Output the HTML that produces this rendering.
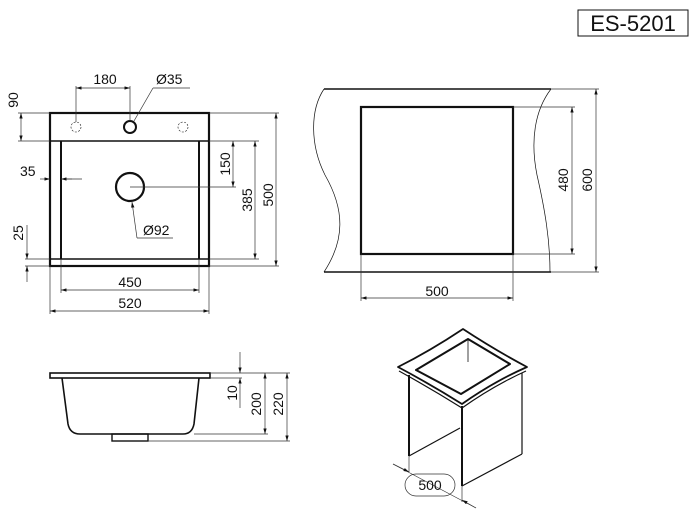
<!DOCTYPE html>
<html><head><style>
html,body{margin:0;padding:0;background:#fff;}
svg{display:block;}
text{font-family:"Liberation Sans",Arial,sans-serif;fill:#111;}
</style></head><body>
<svg width="692" height="530" viewBox="0 0 692 530" xmlns="http://www.w3.org/2000/svg">
<defs>
<marker id="a" viewBox="0 0 10 6" refX="10" refY="3" markerWidth="8" markerHeight="5" orient="auto-start-reverse"><path d="M0,0 L10,3 L0,6z" fill="#111"/></marker>
</defs>
<rect x="578" y="10" width="110" height="26" fill="none" stroke="#111" stroke-width="1"/>
<text x="633" y="31" font-size="22" text-anchor="middle">ES-5201</text>

<g stroke="#111" fill="none">
<rect x="50" y="113" width="159" height="153" stroke-width="2.2"/>
<line x1="50" y1="141" x2="209" y2="141" stroke-width="1.6"/>
<line x1="50" y1="259" x2="209" y2="259" stroke-width="1.6"/>
<line x1="61" y1="141" x2="61" y2="259" stroke-width="2"/>
<line x1="199" y1="141" x2="199" y2="259" stroke-width="2"/>
<circle cx="130" cy="127" r="6" stroke-width="2"/>
<circle cx="76" cy="127" r="5" stroke-width="0.6" stroke-dasharray="2,1.5"/>
<circle cx="183" cy="127" r="5" stroke-width="0.6" stroke-dasharray="2,1.5"/>
<circle cx="130" cy="187" r="14" stroke-width="2.2"/>
</g>
<g stroke="#333" stroke-width="0.7" fill="none">
<line x1="76" y1="86" x2="76" y2="122"/><line x1="130" y1="86" x2="130" y2="121"/>
<line x1="76" y1="88" x2="130" y2="88" marker-start="url(#a)" marker-end="url(#a)"/>
<line x1="134" y1="121" x2="153" y2="88"/><line x1="153" y1="88" x2="190" y2="88"/>
<line x1="18" y1="113" x2="50" y2="113"/><line x1="18" y1="141" x2="50" y2="141"/>
<line x1="21" y1="113" x2="21" y2="141" marker-start="url(#a)" marker-end="url(#a)"/>
<line x1="40" y1="179" x2="50" y2="179" marker-end="url(#a)"/>
<line x1="61" y1="179" x2="82" y2="179"/>
<line x1="61" y1="179" x2="72" y2="179" marker-start="url(#a)"/>
<line x1="130" y1="187" x2="236" y2="187"/>
<line x1="25" y1="259" x2="50" y2="259"/><line x1="25" y1="266" x2="50" y2="266"/>
<line x1="27" y1="225" x2="27" y2="259" marker-end="url(#a)"/>
<line x1="27" y1="266" x2="27" y2="282" marker-start="url(#a)"/>
<line x1="209" y1="141" x2="259" y2="141"/><line x1="209" y1="259" x2="259" y2="259"/>
<line x1="209" y1="113" x2="279" y2="113"/><line x1="209" y1="266" x2="279" y2="266"/>
<line x1="233" y1="141" x2="233" y2="187" marker-start="url(#a)" marker-end="url(#a)"/>
<line x1="255" y1="141" x2="255" y2="259" marker-start="url(#a)" marker-end="url(#a)"/>
<line x1="276" y1="113" x2="276" y2="266" marker-start="url(#a)" marker-end="url(#a)"/>
<line x1="61" y1="259" x2="61" y2="293"/><line x1="199" y1="259" x2="199" y2="293"/>
<line x1="50" y1="266" x2="50" y2="314"/><line x1="209" y1="266" x2="209" y2="314"/>
<line x1="61" y1="290" x2="199" y2="290" marker-start="url(#a)" marker-end="url(#a)"/>
<line x1="50" y1="311" x2="209" y2="311" marker-start="url(#a)" marker-end="url(#a)"/>
<line x1="132" y1="202" x2="137" y2="238" marker-start="url(#a)"/><line x1="137" y1="238" x2="173" y2="238"/>
</g>
<g font-size="14">
<text x="105" y="84" text-anchor="middle">180</text>
<text x="156" y="84">Ø35</text>
<text x="20" y="176">35</text>
<text x="143" y="235">Ø92</text>
<text x="130" y="287" text-anchor="middle">450</text>
<text x="130" y="308" text-anchor="middle">520</text>
<text transform="translate(18,100) rotate(-90)" text-anchor="middle">90</text>
<text transform="translate(23,233) rotate(-90)" text-anchor="middle">25</text>
<text transform="translate(230,164) rotate(-90)" text-anchor="middle">150</text>
<text transform="translate(252,200) rotate(-90)" text-anchor="middle">385</text>
<text transform="translate(273,195) rotate(-90)" text-anchor="middle">500</text>
</g>

<g stroke="#111" fill="none">
<line x1="324" y1="89" x2="551" y2="89" stroke-width="1.6"/>
<line x1="324" y1="272" x2="551" y2="272" stroke-width="1.6"/>
<path d="M324,89 C310,110 310,145 325,175 C345,210 345,240 324,272" stroke-width="0.7"/>
<path d="M551,89 C535,110 530,140 537,175 C545,210 550,240 550,272" stroke-width="0.7"/>
<rect x="361" y="107" width="152" height="147" stroke-width="2.2"/>
</g>
<g stroke="#333" stroke-width="0.7" fill="none">
<line x1="513" y1="107" x2="575" y2="107"/><line x1="513" y1="254" x2="575" y2="254"/>
<line x1="551" y1="89" x2="599" y2="89"/><line x1="551" y1="272" x2="599" y2="272"/>
<line x1="572" y1="107" x2="572" y2="254" marker-start="url(#a)" marker-end="url(#a)"/>
<line x1="596" y1="89" x2="596" y2="272" marker-start="url(#a)" marker-end="url(#a)"/>
<line x1="361" y1="254" x2="361" y2="301"/><line x1="513" y1="254" x2="513" y2="301"/>
<line x1="361" y1="298" x2="513" y2="298" marker-start="url(#a)" marker-end="url(#a)"/>
</g>
<g font-size="14">
<text x="437" y="296" text-anchor="middle">500</text>
<text transform="translate(568,180) rotate(-90)" text-anchor="middle">480</text>
<text transform="translate(592,180) rotate(-90)" text-anchor="middle">600</text>
</g>

<g stroke="#111" fill="none">
<rect x="50" y="373" width="160" height="5" stroke-width="1.6"/>
<path d="M62,378 L68,424 Q70,434 80,434 L183,434 Q192,434 194,424 L199,378" stroke-width="1.6"/>
<rect x="112" y="434" width="36" height="7" stroke-width="1.4"/>
</g>
<g stroke="#333" stroke-width="0.7" fill="none">
<line x1="210" y1="373" x2="290" y2="373"/>
<line x1="194" y1="434" x2="268" y2="434"/>
<line x1="148" y1="441" x2="290" y2="441"/>
<line x1="240" y1="352" x2="240" y2="373" marker-end="url(#a)"/>
<line x1="240" y1="378" x2="240" y2="408" marker-start="url(#a)"/>
<line x1="210" y1="378" x2="242" y2="378"/>
<line x1="265" y1="373" x2="265" y2="434" marker-start="url(#a)" marker-end="url(#a)"/>
<line x1="287" y1="373" x2="287" y2="441" marker-start="url(#a)" marker-end="url(#a)"/>
</g>
<g font-size="14">
<text transform="translate(237,393) rotate(-90)" text-anchor="middle">10</text>
<text transform="translate(261,404) rotate(-90)" text-anchor="middle">200</text>
<text transform="translate(283,404) rotate(-90)" text-anchor="middle">220</text>
</g>

<g stroke="#111" fill="none" stroke-linejoin="round">
<path d="M398,367 Q430,351 463,329 Q495,350 527,367 Q493,382 462,404 Q430,384 398,367z" stroke-width="1.8"/>
<path d="M399,371 Q430,388 462,408 Q493,386 526,371" stroke-width="1.2"/>
<path d="M416,370 L468,339 L510,364 L461,394z" stroke-width="2"/>
<line x1="468" y1="339" x2="468" y2="362" stroke-width="0.8"/>
<line x1="409" y1="375" x2="409" y2="456" stroke-width="2"/>
<line x1="462" y1="406" x2="462" y2="486" stroke-width="2"/>
<line x1="522" y1="373" x2="522" y2="454" stroke-width="1.2"/>
<line x1="409" y1="456" x2="460" y2="428" stroke-width="1.2"/>
<line x1="462" y1="486" x2="522" y2="454" stroke-width="1.2"/>
</g>
<g stroke="#333" stroke-width="0.7" fill="none">
<line x1="409" y1="456" x2="409" y2="472"/><line x1="462" y1="486" x2="462" y2="502"/>
<line x1="393" y1="464" x2="476" y2="508"/>
<line x1="393" y1="464" x2="409" y2="472" marker-end="url(#a)"/>
<line x1="476" y1="508" x2="462" y2="500" marker-end="url(#a)"/>
<rect x="405" y="474" width="50" height="22" rx="11"/>
</g>
<text x="430" y="490" font-size="14" text-anchor="middle">500</text>
</svg>
</body></html>
